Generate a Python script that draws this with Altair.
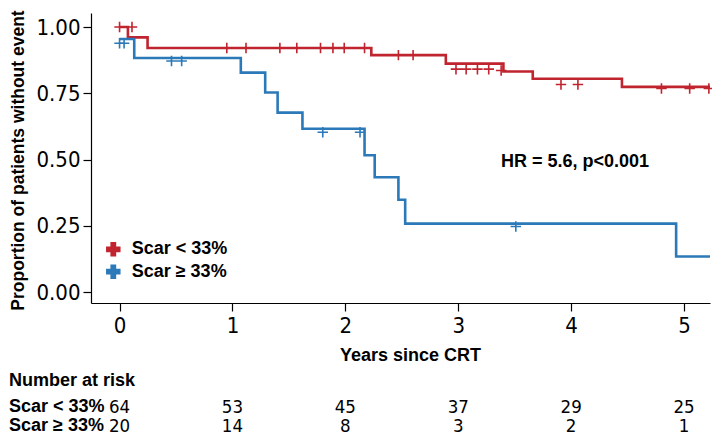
import altair as alt
import pandas as pd

groups = ["Scar < 33%", "Scar ≥ 33%"]
colors = ["#C0242F", "#2B79B8"]

# Kaplan-Meier step curves (time in years, survival proportion)
red_t = [0.0, 0.074, 0.248, 2.23, 2.89, 3.40, 3.66, 4.45, 5.23]
red_s = [1.0, 0.961, 0.921, 0.894, 0.862, 0.832, 0.805, 0.774, 0.774]
blue_t = [0.0, 0.13, 1.074, 1.29, 1.40, 1.62, 2.17, 2.26, 2.47, 2.53, 4.93, 5.23]
blue_s = [0.955, 0.883, 0.828, 0.753, 0.677, 0.616, 0.516, 0.433, 0.348, 0.258, 0.134, 0.134]

# censor marks
red_ct = [0.0, 0.11, 0.95, 1.12, 1.42, 1.57, 1.78, 1.89, 1.99, 2.17, 2.47, 2.60,
          2.98, 3.07, 3.17, 3.27, 3.38, 3.91, 4.06, 4.80, 5.05, 5.22]
red_cs = [1.0, 1.0, 0.921, 0.921, 0.921, 0.921, 0.921, 0.921, 0.921, 0.921, 0.894, 0.894,
          0.841, 0.841, 0.841, 0.841, 0.836, 0.783, 0.783, 0.768, 0.768, 0.768]
blue_ct = [0.0, 0.04, 0.46, 0.55, 1.80, 2.13, 3.51]
blue_cs = [0.939, 0.939, 0.872, 0.872, 0.603, 0.603, 0.247]

# number at risk
risk_times = [0, 1, 2, 3, 4, 5]
risk_lo = [64, 53, 45, 37, 29, 25]
risk_hi = [20, 14, 8, 3, 2, 1]

x_ticks = [0, 1, 2, 3, 4, 5]
y_ticks = [0, 0.25, 0.5, 0.75, 1.0]

line_df = pd.concat([
    pd.DataFrame({"t": red_t, "s": red_s, "group": groups[0]}),
    pd.DataFrame({"t": blue_t, "s": blue_s, "group": groups[1]}),
])
cens_df = pd.concat([
    pd.DataFrame({"t": red_ct, "s": red_cs, "group": groups[0]}),
    pd.DataFrame({"t": blue_ct, "s": blue_cs, "group": groups[1]}),
])
risk_lo_df = pd.DataFrame({"t": risk_times, "n": risk_lo})
risk_hi_df = pd.DataFrame({"t": risk_times, "n": risk_hi})

NUMF = "DejaVu Sans Condensed, Liberation Sans, sans-serif"
TXTF = "Liberation Sans, Arial, sans-serif"
TXTS = 18
ROW1, ROW2 = 393.5, 412.5

x_scale = alt.Scale(domain=[-0.253, 5.23], nice=False, zero=False)
y_scale = alt.Scale(domain=[-0.0415, 1.053], nice=False, zero=False)
color_scale = alt.Scale(domain=groups, range=colors)

x_enc = alt.X("t:Q", scale=x_scale, axis=alt.Axis(
    values=x_ticks, format="d", title="Years since CRT",
    titleX=319, titleY=52, titleBaseline="middle", labelPadding=4))
y_enc = alt.Y("s:Q", scale=y_scale, axis=alt.Axis(
    values=y_ticks, format=".2f", title="Proportion of patients without event",
    titleX=-73, titleY=147, titleBaseline="middle", titleAngle=-90, labelPadding=3,
    titleFontSize=17.5))

lines = alt.Chart(line_df).mark_line(interpolate="step-after", strokeWidth=2.6).encode(
    x=x_enc, y=y_enc,
    color=alt.Color("group:N", scale=color_scale, legend=None),
)

censors = alt.Chart(cens_df).mark_point(
    shape="M-1,0L1,0M0,-1L0,1", size=110, strokeWidth=1.6, filled=False, opacity=1
).encode(
    x="t:Q", y="s:Q",
    color=alt.Color("group:N", scale=color_scale, legend=None),
)

# legend drawn as marks: cross symbol + bold label for each group
def legend_row(i, ypix):
    d = pd.DataFrame({"group": [groups[i]]})
    sym = alt.Chart(d).mark_point(shape="cross", filled=True, size=210, opacity=1, strokeWidth=0).encode(
        x=alt.value(22.3), y=alt.value(ypix),
        color=alt.Color("group:N", scale=color_scale, legend=None),
    )
    lab = alt.Chart(d).mark_text(
        font=TXTF, fontSize=TXTS, fontWeight="bold", align="left", baseline="middle", color="black"
    ).encode(x=alt.value(40.7), y=alt.value(ypix), text="group:N")
    return sym + lab

leg1 = legend_row(0, 236.3)
leg2 = legend_row(1, 258.7)

hr_text = alt.Chart(pd.DataFrame({"txt": ["HR = 5.6, p<0.001"]})).mark_text(
    font=TXTF, fontSize=TXTS, fontWeight="bold", align="center", baseline="middle", color="black"
).encode(x=alt.value(484), y=alt.value(149), text="txt:N")

risk_title = alt.Chart(pd.DataFrame({"txt": ["Number at risk"]})).mark_text(
    font=TXTF, fontSize=TXTS, fontWeight="bold", align="left", baseline="middle", color="black"
).encode(x=alt.value(-82), y=alt.value(368), text="txt:N")

row_lbl_lo = alt.Chart(pd.DataFrame({"txt": [groups[0]]})).mark_text(
    font=TXTF, fontSize=TXTS, fontWeight="bold", align="left", baseline="middle", color="black"
).encode(x=alt.value(-82), y=alt.value(ROW1), text="txt:N")
row_lbl_hi = alt.Chart(pd.DataFrame({"txt": [groups[1]]})).mark_text(
    font=TXTF, fontSize=TXTS, fontWeight="bold", align="left", baseline="middle", color="black"
).encode(x=alt.value(-82), y=alt.value(ROW2), text="txt:N")

nums_lo = alt.Chart(risk_lo_df).mark_text(
    font=NUMF, fontSize=18.5, align="center", baseline="middle", color="black"
).encode(x="t:Q", y=alt.value(ROW1), text="n:Q")
nums_hi = alt.Chart(risk_hi_df).mark_text(
    font=NUMF, fontSize=18.5, align="center", baseline="middle", color="black"
).encode(x="t:Q", y=alt.value(ROW2), text="n:Q")

chart = alt.layer(
    lines, censors, leg1, leg2, hr_text, risk_title, row_lbl_lo, row_lbl_hi, nums_lo, nums_hi
).properties(
    width=619, height=290,
    autosize=alt.AutoSizeParams(type="none"),
    padding={"left": 83, "top": 5, "right": 2, "bottom": 133},
).configure_view(stroke=None).configure_axis(
    grid=False, domainColor="black", domainWidth=1.2, tickColor="black", tickWidth=1.2, tickSize=8,
    labelFont=NUMF, labelFontSize=22, labelColor="black",
    titleFont=TXTF, titleFontSize=TXTS, titleFontWeight="bold", titleColor="black",
)

chart.save("out.html", embed_options={"renderer": "svg", "actions": False})
